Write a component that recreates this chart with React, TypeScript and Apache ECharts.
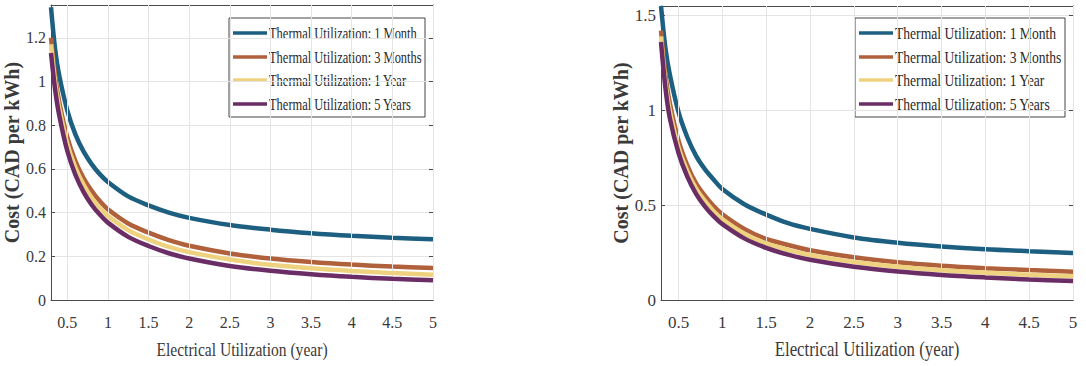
import React, { useEffect, useRef } from "react";
import * as echarts from "echarts";

const xVals = [0.3, 0.35, 0.4, 0.5, 0.6, 0.7, 0.8, 0.9, 1, 1.25, 1.5, 1.75, 2, 2.5, 3, 3.5, 4, 4.5, 5];
const xTicks = [0.5, 1, 1.5, 2, 2.5, 3, 3.5, 4, 4.5, 5];
const seriesNames = [
  "Thermal Utilization: 1 Month",
  "Thermal Utilization: 3 Months",
  "Thermal Utilization: 1 Year",
  "Thermal Utilization: 5 Years",
];
const colors = ["#1d5f80", "#b0613b", "#efd27f", "#6a2d66"];
const xTitle = "Electrical Utilization (year)";
const yTitle = "Cost (CAD per kWh)";

// Left panel
const m1L = [1.34, 1.15, 1.03, 0.868, 0.758, 0.68, 0.622, 0.576, 0.54, 0.474, 0.433, 0.4, 0.376, 0.343, 0.322, 0.306, 0.294, 0.285, 0.278];
const m3L = [1.2, 1.03, 0.91, 0.745, 0.636, 0.558, 0.5, 0.453, 0.415, 0.35, 0.308, 0.274, 0.248, 0.213, 0.19, 0.174, 0.162, 0.153, 0.146];
const y1L = [1.17, 1.0, 0.882, 0.716, 0.606, 0.528, 0.468, 0.422, 0.385, 0.32, 0.277, 0.243, 0.219, 0.185, 0.161, 0.145, 0.133, 0.123, 0.116];
const y5L = [1.13, 0.965, 0.848, 0.683, 0.573, 0.495, 0.436, 0.391, 0.354, 0.289, 0.247, 0.214, 0.19, 0.156, 0.134, 0.118, 0.106, 0.097, 0.09];

// Right panel
const m1R = [1.55, 1.33, 1.19, 0.99, 0.858, 0.76, 0.69, 0.635, 0.585, 0.505, 0.45, 0.405, 0.375, 0.33, 0.302, 0.282, 0.267, 0.257, 0.248];
const m3R = [1.42, 1.19, 1.04, 0.84, 0.71, 0.615, 0.55, 0.495, 0.452, 0.375, 0.322, 0.29, 0.262, 0.225, 0.199, 0.181, 0.168, 0.158, 0.149];
const y1R = [1.39, 1.15, 1.0, 0.805, 0.68, 0.587, 0.522, 0.468, 0.426, 0.35, 0.298, 0.264, 0.237, 0.2, 0.175, 0.157, 0.144, 0.133, 0.125];
const y5R = [1.36, 1.12, 0.96, 0.775, 0.65, 0.56, 0.494, 0.442, 0.4, 0.325, 0.275, 0.239, 0.212, 0.175, 0.15, 0.132, 0.119, 0.108, 0.1];

const leftData = [m1L, m3L, y1L, y5L];
const rightData = [m1R, m3R, y1R, y5R];

const SERIF = "'Liberation Serif', 'DejaVu Serif', serif";
const AXIS_COLOR = "#4a4a4a";
const GRID_COLOR = "#e4e4e4";
const TEXT_COLOR = "#3a3a3a";

function xAxes(gridIndex: number, labelSize: number) {
  return [
    {
      type: "value",
      gridIndex,
      position: "bottom",
      min: 0.3,
      max: 5,
      axisLine: { show: true, onZero: false, lineStyle: { color: AXIS_COLOR, width: 1 } },
      axisTick: { show: true, inside: true, length: 4, customValues: xTicks, lineStyle: { color: AXIS_COLOR } },
      axisLabel: {
        show: true,
        customValues: xTicks,
        margin: 14,
        fontFamily: SERIF,
        fontSize: labelSize,
        color: TEXT_COLOR,
        formatter: (v: number) => String(v),
      },
      splitLine: { show: false },
    },
    {
      type: "value",
      gridIndex,
      position: "top",
      min: 0.3,
      max: 5,
      axisLine: { show: true, onZero: false, lineStyle: { color: AXIS_COLOR, width: 1 } },
      axisTick: { show: true, inside: true, length: 4, customValues: xTicks, lineStyle: { color: AXIS_COLOR } },
      axisLabel: { show: false },
      splitLine: { show: false },
    },
  ];
}

function yAxes(gridIndex: number, max: number, interval: number, labelSize: number, nameGap: number) {
  return [
    {
      type: "value",
      gridIndex,
      position: "left",
      min: 0,
      max,
      interval,
      name: yTitle,
      nameLocation: "middle",
      nameGap,
      nameTextStyle: { fontFamily: SERIF, fontSize: 20, fontWeight: "bold", color: TEXT_COLOR },
      axisLine: { show: true, onZero: false, lineStyle: { color: AXIS_COLOR, width: 1 } },
      axisTick: { show: true, inside: true, length: 4, lineStyle: { color: AXIS_COLOR } },
      axisLabel: {
        show: true,
        margin: 5,
        showMaxLabel: false,
        fontFamily: SERIF,
        fontSize: labelSize,
        color: TEXT_COLOR,
      },
      splitLine: { show: true, lineStyle: { color: GRID_COLOR, width: 1 } },
    },
    {
      type: "value",
      gridIndex,
      position: "right",
      min: 0,
      max,
      interval,
      axisLine: { show: true, onZero: false, lineStyle: { color: AXIS_COLOR, width: 1 } },
      axisTick: { show: true, inside: true, length: 4, lineStyle: { color: AXIS_COLOR } },
      axisLabel: { show: false },
      splitLine: { show: false },
    },
  ];
}

function panelSeries(data: number[][], xIndex: number, yIndex: number) {
  const grid = {
    name: "grid" + xIndex,
    type: "line",
    xAxisIndex: xIndex,
    yAxisIndex: yIndex,
    data: [],
    z: 1,
    silent: true,
    markLine: {
      silent: true,
      symbol: "none",
      label: { show: false },
      lineStyle: { color: GRID_COLOR, width: 1, type: "solid" },
      data: xTicks.map((v) => ({ xAxis: v })),
    },
  };
  const lines = data.map((vals, i) => ({
    name: seriesNames[i],
    type: "line",
    xAxisIndex: xIndex,
    yAxisIndex: yIndex,
    data: vals.map((v, j) => [xVals[j], v]),
    smooth: 0.3,
    showSymbol: false,
    symbol: "none",
    z: 3 + i,
    clip: true,
    lineStyle: { color: colors[i], width: 4.5 },
    itemStyle: { color: colors[i] },
  }));
  return [grid, ...lines];
}

// Legend drawn as graphic elements (box, line samples, condensed text)
function legendGraphic(x: number, y: number, w: number, h: number, fontSize: number, sx: number) {
  const rowY = [15, 39, 62, 86];
  const children: any[] = [
    {
      type: "rect",
      shape: { x: 0, y: 0, width: w, height: h },
      style: { fill: "#ffffff", stroke: "#444", lineWidth: 1 },
    },
  ];
  seriesNames.forEach((name, i) => {
    children.push({
      type: "line",
      shape: { x1: 4, y1: rowY[i], x2: 38, y2: rowY[i] },
      style: { stroke: colors[i], lineWidth: 3.5 },
    });
    children.push({
      type: "text",
      x: 40,
      y: rowY[i],
      scaleX: sx,
      style: {
        text: name,
        fontFamily: SERIF,
        fontSize,
        fill: "#2a2a2a",
        verticalAlign: "middle",
        align: "left",
      },
    });
  });
  return { type: "group", x, y, z: 100, children };
}

function xTitleGraphic(cx: number, cy: number, fontSize: number, sx: number) {
  return {
    type: "text",
    x: cx,
    y: cy,
    scaleX: sx,
    z: 100,
    style: {
      text: xTitle,
      fontFamily: SERIF,
      fontSize,
      fill: TEXT_COLOR,
      align: "center",
      verticalAlign: "middle",
    },
  };
}

export default function App() {
  const ref = useRef<HTMLDivElement>(null);
  useEffect(() => {
    if (!ref.current) return;
    const chart = echarts.init(ref.current, undefined, { renderer: "svg" });
    const option = {
      animation: false,
      backgroundColor: "#ffffff",
      grid: [
        { left: 51, top: 5, width: 382, height: 295, containLabel: false },
        { left: 661, top: 6, width: 412, height: 294, containLabel: false },
      ],
      xAxis: [...xAxes(0, 16), ...xAxes(1, 17)],
      yAxis: [...yAxes(0, 1.35, 0.2, 16, 15), ...yAxes(1, 1.55, 0.5, 17, 20)],
      graphic: [
        legendGraphic(229, 18, 196, 99, 16, 0.78),
        legendGraphic(855, 18, 210, 99, 17, 0.8),
        xTitleGraphic(242, 350, 19, 0.82),
        xTitleGraphic(867, 350, 20, 0.84),
      ],
      series: [...panelSeries(leftData, 0, 0), ...panelSeries(rightData, 2, 2)],
    };
    chart.setOption(option as any);
    return () => chart.dispose();
  }, []);
  return (
    <div
      ref={ref}
      style={{ position: "fixed", left: 0, top: 0, width: 1086, height: 366, background: "#fff" }}
    />
  );
}
